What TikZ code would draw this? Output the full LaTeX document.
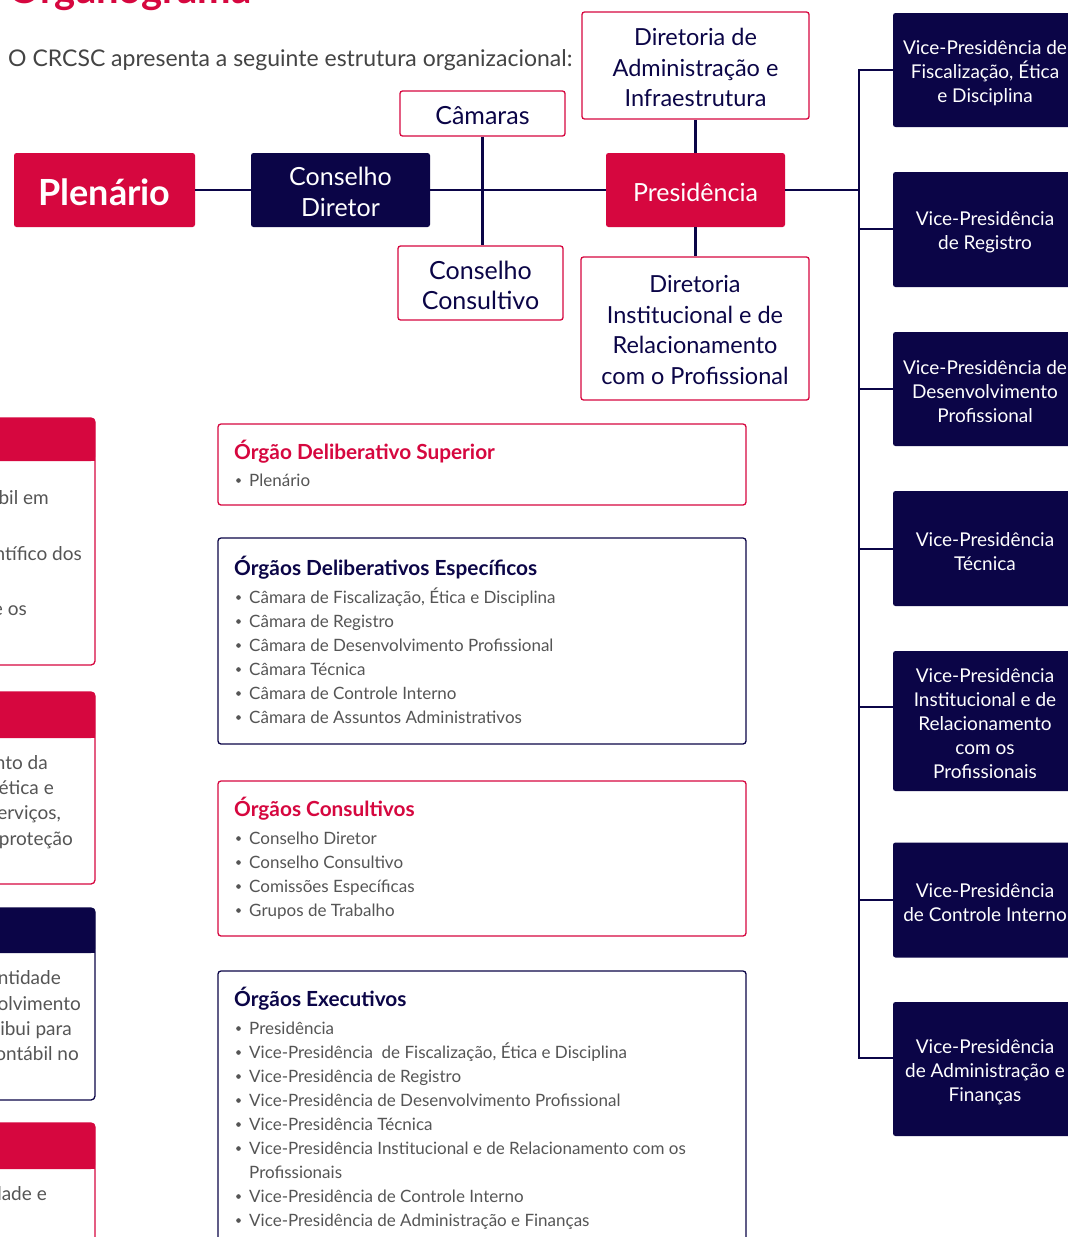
\documentclass[tikz,border=0pt]{standalone}
\usepackage{fontspec}
\setmainfont{Lato}
\definecolor{crim}{HTML}{D6073F}
\definecolor{navy}{HTML}{0B0547}
\definecolor{txtgray}{HTML}{555555}
\definecolor{subgray}{HTML}{444444}
\newcommand\fs[2]{\fontsize{#1}{#2}\selectfont}
\begin{document}
\begin{tikzpicture}[x=1pt,y=-1pt,
  redbox/.style={fill=crim, rounded corners=2.5pt, inner sep=0pt},
  navybox/.style={fill=navy, rounded corners=2.5pt, inner sep=0pt},
  outbox/.style={draw=crim, line width=1.3pt, fill=white, rounded corners=2.5pt, inner sep=0pt},
  wtext/.style={text=white, inner sep=0pt, align=center},
  ntext/.style={text=navy, inner sep=0pt, align=center},
  conn/.style={draw=navy, line width=2.8pt},
  vpbox/.style={navybox, minimum width=184pt},
  vptext/.style={wtext, font=\fs{19}{24}},
  listbox/.style={line width=1.3pt, rounded corners=3pt, inner sep=0pt, minimum width=528pt},
  ltitle/.style={anchor=base west, inner sep=0pt, font=\bfseries\fs{20.8}{24}},
  itm/.style={anchor=base west, inner sep=0pt, text=txtgray, font=\fs{17}{24}},
  frag/.style={anchor=base east, inner sep=0pt, text=txtgray, font=\fs{19}{24}}
]
\useasboundingbox (0,0) rectangle (1068,1237);
\fill[white] (0,0) rectangle (1068,1237);

% title and subtitle
\node[anchor=base west, inner sep=0pt, text=crim, font=\bfseries\fs{40}{44}] (title) at (8,3) {Organograma};
\node[anchor=base west, inner sep=0pt, text=subgray, font=\fs{23}{26}] (sub) at (8,66) {O CRCSC apresenta a seguinte estrutura organizacional:};

% top org chart boxes
\node[redbox, minimum width=181pt, minimum height=74pt] (plen) at (104.5,190) {};
\node[navybox, minimum width=179pt, minimum height=74pt] (cd) at (340.5,190) {};
\node[outbox, minimum width=165pt, minimum height=45pt] (cam) at (482.5,113.5) {};
\node[outbox, minimum width=165pt, minimum height=74pt] (cc) at (480.5,283) {};
\node[redbox, minimum width=179pt, minimum height=74pt] (pres) at (695.5,190) {};
\node[outbox, minimum width=227pt, minimum height=107pt] (dai) at (695.5,65.5) {};
\node[outbox, minimum width=228pt, minimum height=143pt] (dir) at (695,328.5) {};

\node[wtext, font=\bfseries\fs{36}{40}] (plent) at ([yshift=-2pt]plen.center) {Plenário};
\node[wtext, font=\fs{25}{31}] (cdt) at ([yshift=-2pt]cd.center) {Conselho\\Diretor};
\node[ntext, font=\fs{25}{31}] (camt) at ([yshift=-2pt]cam.center) {Câmaras};
\node[ntext, font=\fs{25}{30}] (cct) at ([yshift=-2pt]cc.center) {Conselho\\Consultivo};
\node[wtext, font=\fs{25}{31}] (prest) at ([yshift=-2pt]pres.center) {Presidência};
\node[ntext, font=\fs{23.5}{30.5}] (dait) at ([yshift=-2pt]dai.center) {Diretoria de\\Administração e\\Infraestrutura};
\node[ntext, font=\fs{23.5}{30.5}] (dirt) at ([yshift=-1.5pt]dir.center) {Diretoria\\Institucional e de\\Relacionamento\\com o Profissional};

% VP boxes
\node[vpbox, minimum height=114pt] (vp1) at (985,70) {};
\node[vpbox, minimum height=115pt] (vp2) at (985,229.5) {};
\node[vpbox, minimum height=114pt] (vp3) at (985,389) {};
\node[vpbox, minimum height=115pt] (vp4) at (985,548.5) {};
\node[vpbox, minimum height=140pt] (vp5) at (985,721) {};
\node[vpbox, minimum height=115pt] (vp6) at (985,900) {};
\node[vpbox, minimum height=134pt] (vp7) at (985,1069) {};
\node[vptext] (vp1t) at ([yshift=-3pt]vp1.center) {Vice-Presidência de\\Fiscalização, Ética\\e Disciplina};
\node[vptext] (vp2t) at ([yshift=-3pt]vp2.center) {Vice-Presidência\\de Registro};
\node[vptext] (vp3t) at ([yshift=-3pt]vp3.center) {Vice-Presidência de\\Desenvolvimento\\Profissional};
\node[vptext] (vp4t) at ([yshift=-3pt]vp4.center) {Vice-Presidência\\Técnica};
\node[vptext] (vp5t) at ([yshift=-3pt]vp5.center) {Vice-Presidência\\Institucional e de\\Relacionamento\\com os\\Profissionais};
\node[vptext] (vp6t) at ([yshift=-3pt]vp6.center) {Vice-Presidência\\de Controle Interno};
\node[vptext] (vp7t) at ([yshift=-3pt]vp7.center) {Vice-Presidência\\de Administração e\\Finanças};

% connectors
\draw[conn] (plen.east) -- (cd.west);
\draw[conn] (cd.east) -- (pres.west);
\draw[conn] (cam.south) -- (cam.south |- cc.north);
\draw[conn] (pres.north) -- (dai.south);
\draw[conn] (pres.south) -- (pres.south |- dir.north);
\coordinate (b1) at (859,70);
\coordinate (b2) at (859,229);
\coordinate (b3) at (859,389);
\coordinate (b4) at (859,549);
\coordinate (b5) at (859,707);
\coordinate (b6) at (859,900);
\coordinate (b7) at (859,1058);
\draw[conn] (pres.east) -- (pres.east -| b1);
\draw[conn, line cap=rect] (b1) -- (b7);
\foreach \k in {1,...,7} { \draw[conn] (b\k) -- (b\k -| vp\k.west); }

% list boxes
\node[listbox, draw=crim, minimum height=81pt] (lA) at (482,464.5) {};
\node[listbox, draw=navy, minimum height=206pt] (lB) at (482,641) {};
\node[listbox, draw=crim, minimum height=155pt] (lC) at (482,858.5) {};
\draw[line width=1.3pt, draw=navy, rounded corners=3pt] (218,971) rectangle (746,1270);
\coordinate (lD) at (218,971);

\node[ltitle, text=crim] (tA) at (234,459) {Órgão Deliberativo Superior};
\node[ltitle, text=navy] (tB) at (234,575) {Órgãos Deliberativos Específicos};
\node[ltitle, text=crim] (tC) at (234,816) {Órgãos Consultivos};
\node[ltitle, text=navy] (tD) at (234,1006) {Órgãos Executivos};

\newcommand\blist[2]{%
  \foreach \t [count=\i from 0] in {#2} {
    \fill[txtgray] (238.5,#1+24*\i-5.5) circle (2.3pt);
    \node[itm] at (249,#1+24*\i) {\t};
  }}
\blist{486}{Plenário}
\blist{603}{{Câmara de Fiscalização, Ética e Disciplina},{Câmara de Registro},{Câmara de Desenvolvimento Profissional},{Câmara Técnica},{Câmara de Controle Interno},{Câmara de Assuntos Administrativos}}
\blist{844}{{Conselho Diretor},{Conselho Consultivo},{Comissões Específicas},{Grupos de Trabalho}}
\blist{1034}{{Presidência},{Vice-Presidência\ \ de Fiscalização, Ética e Disciplina},{Vice-Presidência de Registro},{Vice-Presidência de Desenvolvimento Profissional},{Vice-Presidência Técnica},{Vice-Presidência Institucional e de Relacionamento com os}}
\node[itm] at (249,1178) {Profissionais};
\blist{1202}{{Vice-Presidência de Controle Interno},{Vice-Presidência de Administração e Finanças}}

% left cut-off cards
\foreach \ya/\yh/\yb/\col in {418/461/665/crim, 692/738/884/crim, 908/953/1100/navy, 1123/1169/1270/crim} {
  \draw[draw=\col, line width=1.3pt, fill=white, rounded corners=4pt] (-200,\ya) rectangle (95,\yb);
  \fill[\col, rounded corners=4pt] (-200,\ya) rectangle (95,\yh);
  \fill[\col] (88,\yh-8) rectangle (95,\yh);
}
\node[frag] at (49,504) {bil em};
\node[frag] at (82,560) {ntífico dos};
\node[frag] at (27,615) {e os};
\node[frag] at (48,769) {nto da};
\node[frag] at (54,794) {ética e};
\node[frag] at (61,819) {erviços,};
\node[frag] at (73,845) {proteção};
\node[frag] at (61,984) {ntidade};
\node[frag] at (81,1010) {olvimento};
\node[frag] at (72,1035) {ibui para};
\node[frag] at (79,1060) {ontábil no};
\node[frag] at (47,1200) {lade e};
\end{tikzpicture}
\end{document}
